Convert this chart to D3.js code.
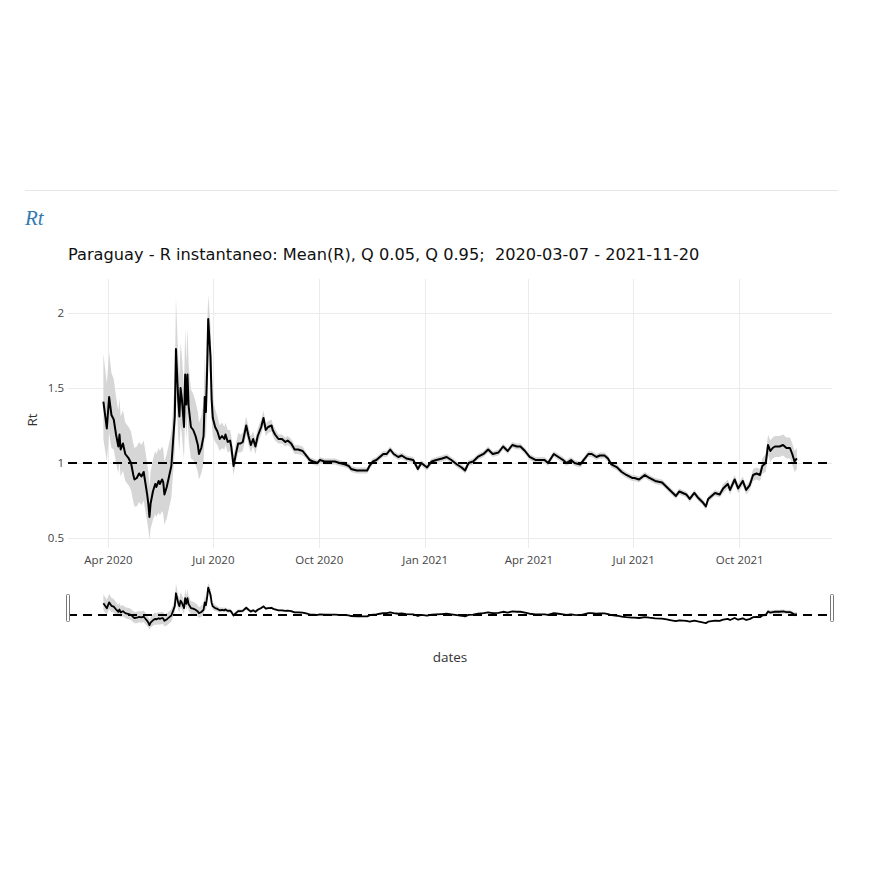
<!DOCTYPE html>
<html>
<head>
<meta charset="utf-8">
<title>Rt Paraguay</title>
<script src="https://d3js.org/d3.v7.min.js"></script>
<style>
  body { margin: 0; background: #fff; }
  svg { display: block; font-family: "Open Sans", sans-serif; }
</style>
</head>
<body>
<svg id="chart"></svg>
<script>
// data: day offsets from the start date, mean R and quantiles
var startDate = "2020-03-07";
var dayIdx = [21,24,26,28,30,32,34,35,36,38,40,43,45,47,48,50,52,54,56,57,59,60,61,62,64,66,67,69,70,72,73,74,76,78,80,81,83,
  84,86,87,88,89,91,92,93,94,95,97,99,101,103,104,106,108,109,110,111,112,114,115,
  116,118,120,122,124,126,127,129,131,132,134,136,138,140,142,145,147,149,151,153,155,158,160,
  162,164,167,168,170,173,176,179,181,184,187,190,194,197,200,
  203,207,209,213,218,222,226,231,234,236,241,245,250,252,255,258,261,264,267,270,273,277,280,284,290,294,297,302,306,310,315,319,323,328,332,335,338,342,346,351,355,359,364,368,372,376,380,383,387,391,396,400,404,407,412,416,420,423,427,430,435,438,442,445,449,452,456,459,462,467,471,475,480,482,486,491,495,500,506,510,514,518,521,524,527,530,534,537,541,544,546,549,552,556,
  559,563,565,569,572,576,579,582,585,588,591,593,596,598,600,602,604,608,611,614,617,619,621,623];
var rMean = [1.41,1.23,1.44,1.32,1.29,1.19,1.11,1.19,1.09,1.13,1.06,1.03,1.00,0.92,0.89,0.90,0.93,0.91,0.94,0.89,0.79,0.73,0.64,0.73,0.81,0.86,0.84,0.88,0.86,0.89,0.87,0.79,0.84,0.91,0.98,1.09,1.31,
  1.76,1.42,1.31,1.50,1.44,1.24,1.59,1.39,1.59,1.38,1.24,1.22,1.18,1.12,1.06,1.10,1.18,1.44,1.34,1.60,1.96,1.71,1.42,
  1.30,1.24,1.21,1.16,1.18,1.16,1.19,1.14,1.15,1.11,0.98,1.06,1.13,1.13,1.14,1.25,1.18,1.12,1.16,1.11,1.18,1.24,1.30,
  1.22,1.24,1.25,1.22,1.19,1.16,1.16,1.14,1.15,1.13,1.09,1.09,1.08,1.05,1.02,
  1.01,1.00,1.02,1.01,1.01,1.01,1.00,0.99,0.98,0.96,0.95,0.95,0.95,0.98,1.01,1.02,1.04,1.06,1.06,1.09,1.06,1.04,1.05,1.03,1.02,0.96,1.00,0.97,1.01,1.02,1.03,1.04,1.02,0.99,0.97,0.95,1.00,1.01,1.04,1.06,1.09,1.06,1.07,1.11,1.08,1.12,1.11,1.11,1.08,1.04,1.02,1.02,1.02,1.00,1.06,1.04,1.02,1.00,1.02,1.00,0.99,1.02,1.06,1.06,1.04,1.05,1.05,1.03,0.99,0.97,0.94,0.92,0.90,0.90,0.89,0.92,0.90,0.88,0.87,0.84,0.81,0.78,0.81,0.80,0.79,0.76,0.80,0.77,0.74,0.71,0.76,0.78,0.80,0.79,
  0.83,0.86,0.82,0.89,0.83,0.88,0.82,0.85,0.92,0.93,0.92,0.98,1.00,1.12,1.08,1.10,1.11,1.11,1.12,1.10,1.10,1.06,1.01,1.03];
var rQ05 = [1.16,1.01,1.20,1.10,1.09,1.00,0.93,1.01,0.91,0.95,0.88,0.85,0.82,0.74,0.71,0.71,0.74,0.72,0.75,0.70,0.61,0.56,0.49,0.56,0.62,0.66,0.64,0.67,0.65,0.68,0.66,0.59,0.63,0.70,0.77,0.88,1.08,
  1.48,1.18,1.08,1.25,1.20,1.02,1.33,1.15,1.33,1.15,1.03,1.02,0.99,0.94,0.89,0.93,1.00,1.24,1.15,1.38,1.72,1.52,1.27,
  1.18,1.14,1.12,1.08,1.10,1.09,1.12,1.07,1.08,1.04,0.92,1.00,1.07,1.07,1.08,1.19,1.12,1.07,1.11,1.06,1.13,1.19,1.25,
  1.18,1.20,1.21,1.18,1.15,1.13,1.13,1.11,1.12,1.10,1.06,1.06,1.05,1.03,1.00,
  0.99,0.98,1.00,0.99,0.99,0.99,0.98,0.97,0.96,0.94,0.93,0.93,0.93,0.96,0.99,1.00,1.02,1.04,1.04,1.07,1.04,1.02,1.03,1.01,1.00,0.94,0.98,0.95,0.99,1.00,1.01,1.02,1.00,0.97,0.95,0.93,0.98,0.99,1.02,1.04,1.07,1.04,1.05,1.09,1.06,1.10,1.09,1.09,1.06,1.02,1.00,1.00,1.00,0.98,1.04,1.02,1.00,0.98,1.00,0.98,0.97,1.00,1.04,1.04,1.02,1.03,1.03,1.01,0.97,0.95,0.92,0.90,0.88,0.88,0.87,0.90,0.88,0.86,0.85,0.82,0.79,0.76,0.79,0.78,0.77,0.74,0.78,0.75,0.72,0.69,0.74,0.76,0.78,0.77,
  0.80,0.83,0.79,0.86,0.80,0.85,0.79,0.82,0.88,0.89,0.88,0.93,0.94,1.05,1.01,1.03,1.04,1.04,1.05,1.03,1.03,0.99,0.94,0.96];
var rQ95 = [1.73,1.53,1.74,1.60,1.56,1.44,1.35,1.43,1.31,1.35,1.27,1.24,1.21,1.13,1.10,1.11,1.14,1.12,1.15,1.10,1.00,0.94,0.84,0.94,1.02,1.08,1.06,1.10,1.08,1.11,1.09,1.01,1.06,1.13,1.20,1.31,1.56,
  2.10,1.70,1.58,1.80,1.73,1.50,1.90,1.67,1.90,1.66,1.49,1.46,1.41,1.34,1.27,1.31,1.40,1.70,1.58,1.88,2.12,1.92,1.60,
  1.44,1.36,1.31,1.25,1.27,1.24,1.27,1.22,1.22,1.18,1.05,1.13,1.20,1.19,1.20,1.31,1.24,1.18,1.21,1.16,1.23,1.29,1.35,
  1.26,1.28,1.29,1.26,1.23,1.19,1.19,1.17,1.18,1.16,1.12,1.12,1.11,1.07,1.04,
  1.03,1.02,1.04,1.03,1.03,1.03,1.02,1.01,1.00,0.98,0.97,0.97,0.97,1.00,1.03,1.04,1.06,1.08,1.08,1.11,1.08,1.06,1.07,1.05,1.04,0.98,1.02,0.99,1.03,1.04,1.05,1.06,1.04,1.01,0.99,0.97,1.02,1.03,1.06,1.08,1.11,1.08,1.09,1.13,1.10,1.14,1.13,1.13,1.10,1.06,1.04,1.04,1.04,1.02,1.08,1.06,1.04,1.02,1.04,1.02,1.01,1.04,1.08,1.08,1.06,1.07,1.07,1.05,1.01,0.99,0.96,0.94,0.92,0.92,0.91,0.94,0.92,0.90,0.89,0.86,0.83,0.80,0.83,0.82,0.81,0.78,0.82,0.79,0.76,0.73,0.78,0.80,0.82,0.81,
  0.86,0.89,0.85,0.92,0.86,0.91,0.85,0.88,0.96,0.97,0.96,1.03,1.06,1.19,1.15,1.17,1.18,1.18,1.19,1.17,1.17,1.13,1.08,1.10];
var yTicks = [0.5, 1, 1.5, 2];
var refLevel = 1;
var xDomain = ["2020-02-26T07:00:00Z", "2021-12-20T12:00:00Z"];
var yDomain = [0.433, 2.227];
var titleText = "Paraguay - R instantaneo: Mean(R), Q 0.05, Q 0.95;  2020-03-07 - 2021-11-20";

var width = 870, height = 870;
var plot = {left: 68, right: 832, top: 279, bottom: 548};
var slider = {top: 580, bottom: 631};

var svg = d3.select("#chart").attr("width", width).attr("height", height);

var t0 = new Date(startDate + "T00:00:00Z");
var rows = dayIdx.map(function (d, i) {
  return {date: d3.utcDay.offset(t0, d), m: rMean[i], lo: rQ05[i], hi: rQ95[i]};
});

var x = d3.scaleUtc()
  .domain(xDomain.map(function (s) { return new Date(s); }))
  .range([plot.left, plot.right]);
var y = d3.scaleLinear().domain(yDomain).range([plot.bottom, plot.top]);
var ySl = d3.scaleLinear().domain(yDomain).range([slider.bottom, slider.top]);

// top rule and header
svg.append("line").attr("x1", 25).attr("x2", 838).attr("y1", 190.5).attr("y2", 190.5)
  .attr("stroke", "#e6e6e6");
svg.append("text").attr("x", 25).attr("y", 225)
  .style("font-family", "'Liberation Serif', serif").style("font-style", "italic")
  .style("font-size", "21px").attr("fill", "#3579b1").text("Rt");

svg.append("text").attr("x", plot.left).attr("y", 260)
  .style("font-family", "'DejaVu Sans', sans-serif")
  .style("font-size", "16.2px").style("white-space", "pre").attr("fill", "#111")
  .text(titleText);

// grid
var gx = svg.append("g");
gx.selectAll("line").data(x.ticks(d3.utcMonth.every(3))).join("line")
  .attr("x1", function (d) { return Math.round(x(d)) + 0.5; })
  .attr("x2", function (d) { return Math.round(x(d)) + 0.5; })
  .attr("y1", plot.top).attr("y2", plot.bottom)
  .attr("stroke", "#ebebeb");
var gy = svg.append("g");
gy.selectAll("line").data(yTicks).join("line")
  .attr("x1", plot.left).attr("x2", plot.right)
  .attr("y1", function (d) { return Math.round(y(d)) + 0.5; })
  .attr("y2", function (d) { return Math.round(y(d)) + 0.5; })
  .attr("stroke", "#ebebeb");

// axes (labels only)
var xAxis = d3.axisBottom(x).ticks(d3.utcMonth.every(3)).tickFormat(d3.utcFormat("%b %Y")).tickSize(0).tickPadding(8);
svg.append("g").attr("transform", "translate(0," + plot.bottom + ")").call(xAxis)
  .call(function (g) { g.select(".domain").remove(); })
  .selectAll("text").style("font-family", "'Open Sans', sans-serif").style("font-size", "11.5px").attr("fill", "#444");
var yAxis = d3.axisLeft(y).tickValues(yTicks).tickFormat(d3.format("~g")).tickSize(0).tickPadding(4);
svg.append("g").attr("transform", "translate(" + plot.left + ",0)").call(yAxis)
  .call(function (g) { g.select(".domain").remove(); })
  .selectAll("text").style("font-family", "'Open Sans', sans-serif").style("font-size", "11.5px").attr("fill", "#444");

svg.append("text").attr("transform", "translate(37,420)rotate(-90)")
  .attr("text-anchor", "middle").style("font-size", "13.5px").attr("fill", "#333").text("Rt");
svg.append("text").attr("x", (plot.left + plot.right) / 2).attr("y", 662)
  .attr("text-anchor", "middle").style("font-size", "13.5px").attr("fill", "#333").text("dates");

function drawSeries(g, ys, lw) {
  var area = d3.area().x(function (d) { return x(d.date); })
    .y0(function (d) { return ys(d.lo); }).y1(function (d) { return ys(d.hi); });
  var line = d3.line().x(function (d) { return x(d.date); }).y(function (d) { return ys(d.m); });
  g.append("path").datum(rows).attr("d", area).attr("fill", "#d6d6d6");
  g.append("path").datum(rows).attr("d", line).attr("fill", "none")
    .attr("stroke", "#000").attr("stroke-width", lw).attr("stroke-linejoin", "round");
  g.append("line").attr("x1", plot.left).attr("x2", plot.right)
    .attr("y1", ys(refLevel)).attr("y2", ys(refLevel))
    .attr("stroke", "#000").attr("stroke-width", 2).attr("stroke-dasharray", "9,6");
}

svg.append("defs").append("clipPath").attr("id", "clipMain").append("rect")
  .attr("x", plot.left).attr("y", plot.top).attr("width", plot.right - plot.left).attr("height", plot.bottom - plot.top);
drawSeries(svg.append("g").attr("clip-path", "url(#clipMain)"), y, 2);

// range slider
drawSeries(svg.append("g"), ySl, 1.8);
[plot.left - 2, plot.right - 2].forEach(function (hx) {
  svg.append("rect").attr("x", hx + 0.5).attr("y", 594.5).attr("width", 3).attr("height", 27)
    .attr("rx", 1).attr("fill", "#fff").attr("stroke", "#777");
});
</script>
</body>
</html>
